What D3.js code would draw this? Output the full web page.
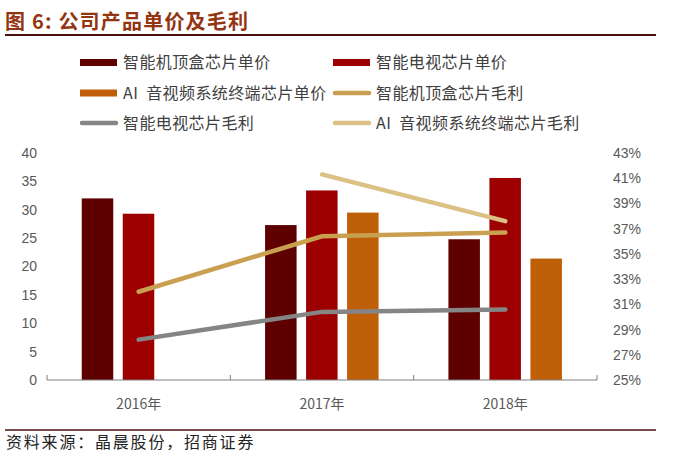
<!DOCTYPE html>
<html><head><meta charset="utf-8">
<script src="https://cdn.jsdelivr.net/npm/d3@7"></script>
<style>body{margin:0;background:#fff}svg{display:block}text{white-space:pre}</style>
</head><body>
<script>
const years = ["2016年","2017年","2018年"];
const stbPrice = [32.0, 27.3, 24.8];
const tvPrice = [29.3, 33.4, 35.6];
const aiPrice = [null, 29.5, 21.4];
const stbMargin = [32.0, 36.4, 36.7];
const tvMargin = [28.2, 30.4, 30.6];
const aiMargin = [null, 41.3, 37.6];
const leftTicks = [0,5,10,15,20,25,30,35,40];
const rightTicks = [25,27,29,31,33,35,37,39,41,43];

const W=673,H=456;
const svg=d3.select("body").append("svg").attr("width",W).attr("height",H);
const font="'Noto Sans CJK SC','Noto Sans',sans-serif";

// title
svg.append("text").attr("x",5).attr("y",29).text("图 6: 公司产品单价及毛利")
  .attr("font-family",font).attr("font-weight","bold").attr("font-size",20).attr("letter-spacing",1.2).attr("fill","#933510");
svg.append("line").attr("x1",5).attr("x2",656).attr("y1",35).attr("y2",35).attr("stroke","#4a1010").attr("stroke-width",2.2);

const x0=47,x1=597,yTop=153,yBot=380;
const x=d3.scaleBand().domain(years).range([x0,x1]);
const sub=d3.scaleBand().domain([0,1,2]).range([0,123]);
const yL=d3.scaleLinear().domain([0,40]).range([yBot,yTop]);
const yR=d3.scaleLinear().domain([25,43]).range([yBot,yTop]);

const barSeries=[{v:stbPrice,c:"#5e0000"},{v:tvPrice,c:"#9c0000"},{v:aiPrice,c:"#bf6008"}];
const bw=31.5;
barSeries.forEach((s,i)=>{
  svg.append("g").selectAll("rect").data(years.map((y,j)=>({y,v:s.v[j]})).filter(d=>d.v!=null))
   .join("rect")
   .attr("x",d=>x(d.y)+30+sub(i)+(41-bw)/2)
   .attr("width",bw)
   .attr("y",d=>yL(d.v)).attr("height",d=>yBot-yL(d.v))
   .attr("fill",s.c);
});

// axes
const axL=svg.append("g").attr("transform",`translate(${x0},0)`).call(d3.axisLeft(yL).tickValues(leftTicks).tickSize(0).tickPadding(10));
axL.select(".domain").remove();
const axR=svg.append("g").attr("transform",`translate(${x1},0)`).call(d3.axisRight(yR).tickValues(rightTicks).tickFormat(d=>d+"%").tickSize(0).tickPadding(16));
axR.select(".domain").remove();
svg.selectAll(".tick text").attr("font-family","'Liberation Sans',Arial,sans-serif").attr("font-size",14).attr("fill","#595959");

svg.append("line").attr("x1",x0).attr("x2",x1).attr("y1",yBot).attr("y2",yBot).attr("stroke","#7f7f7f").attr("stroke-width",1.2);
[x0,x(years[1]),x(years[2]),x1].forEach(v=>{
  svg.append("line").attr("x1",v).attr("x2",v).attr("y1",yBot).attr("y2",yBot-5).attr("stroke","#7f7f7f");
});
svg.append("g").selectAll("text").data(years).join("text")
  .attr("x",d=>x(d)+x.bandwidth()/2).attr("y",409).attr("text-anchor","middle").text(d=>d)
  .attr("font-family",font).attr("font-size",14).attr("fill","#595959");

// lines
const lineSeries=[{v:stbMargin,c:"#c9a050"},{v:tvMargin,c:"#858585"},{v:aiMargin,c:"#dcc184"}];
const lg=d3.line().defined(d=>d.v!=null).x(d=>x(d.y)+x.bandwidth()/2).y(d=>yR(d.v));
lineSeries.forEach(s=>{
  svg.append("path").datum(years.map((y,j)=>({y,v:s.v[j]})))
    .attr("d",lg).attr("fill","none").attr("stroke",s.c).attr("stroke-width",4.5).attr("stroke-linecap","round");
});

// legend
const legend=[
  {t:"智能机顶盒芯片单价",c:"#5e0000",type:"bar"},
  {t:"智能电视芯片单价",c:"#9c0000",type:"bar"},
  {t:"AI  音视频系统终端芯片单价",c:"#bf6008",type:"bar"},
  {t:"智能机顶盒芯片毛利",c:"#c9a050",type:"line"},
  {t:"智能电视芯片毛利",c:"#858585",type:"line"},
  {t:"AI  音视频系统终端芯片毛利",c:"#dcc184",type:"line"}
];
const rowY=[62.5,93,123];
legend.forEach((d,i)=>{
  const col=i%2,row=Math.floor(i/2);
  const lx=col?333:80, ly=rowY[row];
  if(d.type==="bar") svg.append("rect").attr("x",lx).attr("y",ly-3.5).attr("width",37).attr("height",7).attr("fill",d.c);
  else svg.append("line").attr("x1",lx+2).attr("x2",lx+36).attr("y1",ly).attr("y2",ly).attr("stroke",d.c).attr("stroke-width",4.5).attr("stroke-linecap","round");
  svg.append("text").attr("x",lx+43).attr("y",ly+5.5).text(d.t)
    .attr("font-family",font).attr("font-size",16).attr("letter-spacing",0.4).attr("fill","#404040");
});

// footer
svg.append("line").attr("x1",5).attr("x2",656).attr("y1",430).attr("y2",430).attr("stroke","#4a1010").attr("stroke-width",1.5);
svg.append("text").attr("x",6).attr("y",448).text("资料来源：晶晨股份，招商证券")
  .attr("font-family",font).attr("font-size",16).attr("letter-spacing",1.8).attr("fill","#222");
</script>
</body></html>
